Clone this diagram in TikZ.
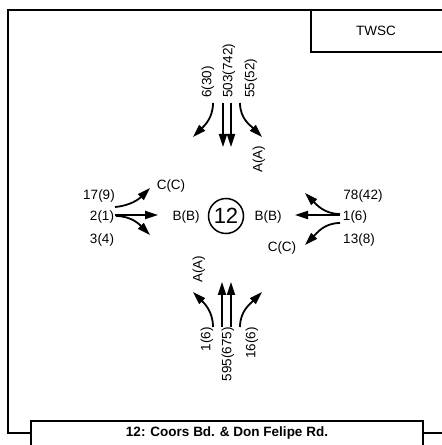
\documentclass[tikz,border=0pt]{standalone}
\usepackage{fontspec}
\setmainfont{Liberation Sans}
\usetikzlibrary{arrows.meta, positioning}

\begin{document}
\begin{tikzpicture}[
		x=1pt, y=1pt,
		frame/.style={line width=1.8pt},
		lbl/.style={font=\fontsize{13.5}{15}\selectfont, inner sep=0pt},
		vlbl/.style={lbl, rotate=90},
		move/.style={-{Triangle[length=13pt, width=8pt]}, line width=1.8pt}
		]
		\useasboundingbox (0,0) rectangle (442,445);
		\clip (0,0) rectangle (442,445);
		
		\draw[frame] (450,435) -- (8,435) -- (8,12) -- (31,12);
		\draw[frame] (423,12) -- (450,12);
		\draw[frame, fill=white] (31,-10) rectangle (423,24);
		\draw[frame] (311,435) rectangle (450,393);
		\node[lbl, font=\fontsize{13.5}{15}\selectfont\bfseries] (title) at (227,12) {12: Coors Bd. \& Don Felipe Rd.};
		\node[lbl] (ctrl) at (376,414) {TWSC};
		
		\node[circle, draw, line width=1.5pt, minimum size=35pt, inner sep=0pt, font=\fontsize{22}{22}\selectfont] (int) at (226,229) {12};
		
		% northbound approach (top)
		\node[vlbl, anchor=west] (nL) at (208,347) {6(30)};
		\node[vlbl, anchor=west] (nT) at (229,347) {503(742)};
		\node[vlbl, anchor=west] (nR) at (251,347) {55(52)};
		\node[vlbl, anchor=west] (nA) at (259,272) {A(A)};
		\coordinate (nLs) at (213,342); \coordinate (nLe) at (193,308);
		\coordinate (nT1s) at (223,342); \coordinate (nT1e) at (223,298);
		\coordinate (nT2s) at (231,342); \coordinate (nT2e) at (231,298);
		\coordinate (nRs) at (240,342); \coordinate (nRe) at (262,308);
		\draw[move] (nLs) to[out=-90, in=45] (nLe);
		\draw[move] (nT1s) -- (nT1e);
		\draw[move] (nT2s) -- (nT2e);
		\draw[move] (nRs) to[out=-90, in=135] (nRe);
		
		% southern approach (bottom)
		\node[vlbl, anchor=east] (sL) at (207,118) {1(6)};
		\node[vlbl, anchor=east] (sT) at (228,118) {595(675)};
		\node[vlbl, anchor=east] (sR) at (252,118) {16(6)};
		\node[vlbl, anchor=west] (sA) at (199,162) {A(A)};
		\coordinate (sLs) at (213,118); \coordinate (sLe) at (193,153);
		\coordinate (sT1s) at (222,118); \coordinate (sT1e) at (222,163);
		\coordinate (sT2s) at (231,118); \coordinate (sT2e) at (231,163);
		\coordinate (sRs) at (240,118); \coordinate (sRe) at (262,153);
		\draw[move] (sLs) to[out=90, in=-45] (sLe);
		\draw[move] (sT1s) -- (sT1e);
		\draw[move] (sT2s) -- (sT2e);
		\draw[move] (sRs) to[out=90, in=-135] (sRe);
		
		% western approach (left)
		\node[lbl] (wL) at (99,249) {17(9)};
		\node[lbl] (wT) at (102,228) {2(1)};
		\node[lbl] (wR) at (102,205) {3(4)};
		\node[lbl] (wC) at (171,259) {C(C)};
		\node[lbl] (wB) at (186,228) {B(B)};
		\coordinate (wLs) at (115,238); \coordinate (wLe) at (150,257);
		\coordinate (wTs) at (115,230); \coordinate (wTe) at (158,230);
		\coordinate (wRs) at (116,229); \coordinate (wRe) at (150,210);
		\draw[move] (wLs) to[out=5, in=-135] (wLe);
		\draw[move] (wTs) -- (wTe);
		\draw[move] (wRs) to[out=0, in=135] (wRe);
		
		% eastern approach (right)
		\node[lbl] (eL) at (363,249) {78(42)};
		\node[lbl] (eT) at (355,228) {1(6)};
		\node[lbl] (eR) at (359,205) {13(8)};
		\node[lbl] (eC) at (282,197) {C(C)};
		\node[lbl] (eB) at (268,228) {B(B)};
		\coordinate (eLs) at (340,231); \coordinate (eLe) at (305,252);
		\coordinate (eTs) at (340,230); \coordinate (eTe) at (295,230);
		\coordinate (eRs) at (340,222); \coordinate (eRe) at (305,200);
		\draw[move] (eLs) to[out=180, in=-45] (eLe);
		\draw[move] (eTs) -- (eTe);
		\draw[move] (eRs) to[out=180, in=45] (eRe);
		
	\end{tikzpicture}
\end{document}
